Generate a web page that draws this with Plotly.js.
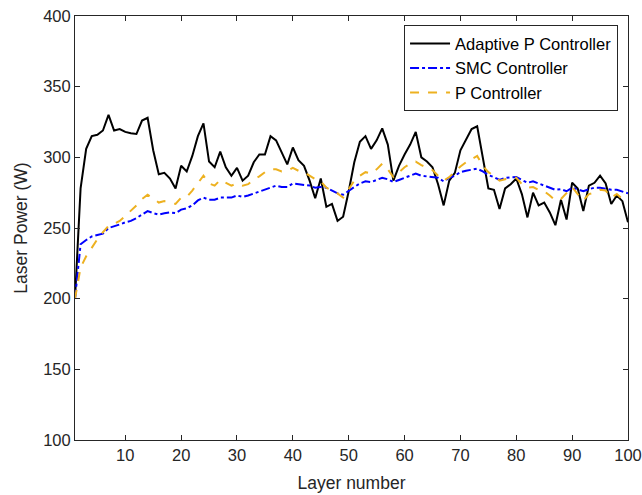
<!DOCTYPE html>
<html>
<head>
<meta charset="utf-8">
<script src="https://cdn.plot.ly/plotly-3.0.1.min.js"></script>
<style>html,body{margin:0;padding:0;background:#fff;}#chart{width:642px;height:495px;}</style>
</head>
<body>
<div id="chart"></div>
<script>
const layers = [];
for (let i = 1; i <= 100; i++) layers.push(i);

const adaptiveP = [200,278,306,315,316,319,330,319,320,318,
317,316.5,326,328,305,288,289,285,278,294,
290,301,315,324,297,293,304,293,287,292.5,
283.5,287,296.5,302,302,315,312,303.5,295,307,
298,294,283.5,271,285,265,267,255,258,276,
296.5,311,315,306,312,320.5,309,283.5,294,302,
309,318,300,297,293,281,266,283.5,289,305,
312,320,322,299,278,277,263.5,278,281,285,
274,257.5,275,266,268,261,252,270,256,282,
278,262,280,282,287,281.5,267,273,269,254];

const smc = [200,238.5,241.5,244,245,246,250,251,252.5,254,
255,257,259.5,262,260.5,259.5,260.5,261,260.5,263,
264,266,269.5,271.5,270,270,271.5,271.5,271.5,273,
272,273,274.5,276,277,279,280,279,279,281.5,
281,280.5,280,278.5,279,278.5,276.5,274.5,273.5,276.5,
279,281.5,283,282.5,284,285.5,284.5,282.5,284,285.5,
287,288.5,287,286.5,286.5,285.5,283,285.5,287,289.5,
290.5,291.5,292,290,287.5,286,284,285.5,285.5,286,
284,282,283,281.5,280,279,277,277.5,276,278.5,
277.5,276,277.5,278.5,278.5,277.5,277,277,276,274.5];

const pCtrl = [200,222,230,236,242,247,251.5,253,255,258.5,
262,266,270.5,273.5,271,268,269,268,267,271.5,
272,276.5,282,287,281.5,280,284,282,280,281.5,
280,281,284.5,286.5,289.5,291.5,291.5,290,290.5,292.5,
290.5,289.5,287,284.5,283,278.5,276.5,274.5,271.5,277.5,
283.5,287,289.5,288.5,291.5,295.5,291.5,286,289.5,293,
295.5,297,294.5,293,291,287,283.5,286,290,293.5,
296.5,299,301,294,289.5,287,283.5,284.5,285.5,285.5,
281,278.5,279,277,276,273,269.5,270.5,275,279,
274,269.5,274,275,277,276.5,271.5,274,270.5,268];

const names = ['Adaptive P Controller','SMC Controller','P Controller'];
const xTicks = [10,20,30,40,50,60,70,80,90,100];
const yTicks = [100,150,200,250,300,350,400];

const font = 'Liberation Sans, Arial, Helvetica, sans-serif';
const axisColor = '#262626';

const traces = [
  {x: layers, y: adaptiveP, name: names[0], mode: 'lines', line: {color: '#000000', width: 2}},
  {x: layers, y: smc, name: names[1], mode: 'lines', line: {color: '#0000FF', width: 2, dash: 'dashdot'}},
  {x: layers, y: pCtrl, name: names[2], mode: 'lines', line: {color: '#EDB120', width: 2, dash: 'dash'}}
];

const axisCommon = {
  showline: true, linecolor: axisColor, linewidth: 1, mirror: 'ticks',
  ticks: 'inside', ticklen: 5, tickcolor: axisColor, tickwidth: 1,
  showgrid: false, zeroline: false, automargin: false,
  tickfont: {family: font, size: 16.5, color: axisColor}
};

const layout = {
  width: 642, height: 495,
  margin: {l: 75, r: 14, t: 16, b: 55},
  paper_bgcolor: '#ffffff', plot_bgcolor: '#ffffff',
  showlegend: true,
  xaxis: Object.assign({}, axisCommon, {
    range: [1, 100], tickvals: xTicks, ticktext: xTicks.map(String),
    title: {text: 'Layer number', font: {family: font, size: 17.5, color: axisColor}, standoff: 13}
  }),
  yaxis: Object.assign({}, axisCommon, {
    range: [100, 400], tickvals: yTicks, ticktext: yTicks.map(String),
    title: {text: 'Laser Power (W)', font: {family: font, size: 17.5, color: axisColor}, standoff: 11}
  }),
  legend: {
    x: 0.982, y: 0.978, xanchor: 'right', yanchor: 'top',
    bgcolor: '#ffffff', bordercolor: axisColor, borderwidth: 1,
    font: {family: font, size: 16.5, color: '#000000'},
    itemwidth: 40,
    tracegroupgap: 0
  }
};

Plotly.newPlot('chart', traces, layout, {displayModeBar: false, staticPlot: true});
</script>
</body>
</html>
